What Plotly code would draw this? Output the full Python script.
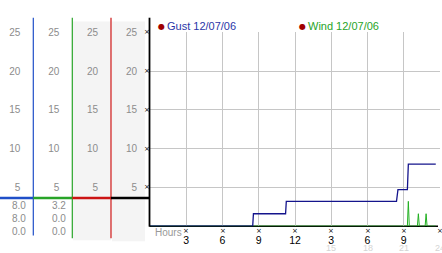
import plotly.graph_objects as go

W, H = 442, 253

def px(x):
    return x / W

def py(y):
    return (H - y) / H

# ---- data (hours since start, knots) ----
gust_hours = [0, 8.50, 8.56, 11.22, 11.28, 20.40, 20.52, 21.30, 21.38, 23.65]
gust_vals = [0, 0, 1.6, 1.6, 3.2, 3.2, 4.7, 4.7, 8.0, 8.0]

wind_hours = [0, 21.30, 21.38, 21.46, 22.13, 22.21, 22.29, 22.77, 22.85, 22.93, 23.65]
wind_vals = [0, 0, 3.2, 0, 0, 1.6, 0, 0, 1.6, 0, 0]

y_ticks = [5, 10, 15, 20, 25]
y_ticklabels = ["5", "10", "15", "20", "25"]
x_ticks = [3, 6, 9, 12, 15, 18, 21, 24]
x_ticklabels = ["3", "6", "9", "12", "3", "6", "9", "12"]
x_ticklabels_24 = ["", "", "", "", "15", "18", "21", "24"]

gust_name = "Gust 12/07/06"
wind_name = "Wind 12/07/06"

GUST_LINE = "#14148c"
GUST_TXT = "#2a36a8"
BLUE = "#1f4fc8"
GREEN = "#28a428"
WIND_LINE = "#22b022"
RED = "#cc1414"
GRAY_TXT = "#8c8c8c"
GRID = "#c6c6c6"

fig = go.Figure()
fig.add_trace(go.Scatter(x=wind_hours, y=wind_vals, mode="lines",
                         line=dict(color=WIND_LINE, width=1), hoverinfo="skip",
                         showlegend=False))
fig.add_trace(go.Scatter(x=gust_hours, y=gust_vals, mode="lines",
                         line=dict(color=GUST_LINE, width=1.3), hoverinfo="skip",
                         showlegend=False))
for ax in ["y2", "y3", "y4"]:
    fig.add_trace(go.Scatter(x=[None], y=[None], yaxis=ax, showlegend=False,
                             hoverinfo="skip"))

label_font = dict(family="Liberation Sans, Arial", size=10, color=GRAY_TXT)

def side_axis(pos):
    return dict(overlaying="y", anchor="free", position=pos, range=[0, 25],
                tickvals=y_ticks, ticktext=y_ticklabels, showgrid=False,
                zeroline=False, showline=False, ticks="outside", ticklen=11,
                tickcolor="rgba(0,0,0,0)", tickfont=label_font, fixedrange=True)

fig.update_layout(
    width=W, height=H, margin=dict(l=0, r=0, t=0, b=0),
    paper_bgcolor="white", plot_bgcolor="white", showlegend=False,
    xaxis=dict(domain=[px(150), px(440)], range=[0, 24], tickvals=x_ticks,
               ticktext=x_ticklabels, showgrid=True, gridcolor=GRID, gridwidth=1,
               zeroline=False, showline=False, ticks="outside", ticklen=4,
               tickcolor="rgba(0,0,0,0)",
               tickfont=dict(family="Liberation Sans, Arial", size=10.5, color="black"),
               fixedrange=True),
    yaxis=dict(domain=[py(225.5), py(27)], range=[0, 25], tickvals=y_ticks,
               ticktext=y_ticklabels, showgrid=True, gridcolor=GRID, gridwidth=1,
               zeroline=False, showline=False, ticks="outside", ticklen=10,
               tickcolor="rgba(0,0,0,0)", tickfont=label_font, fixedrange=True),
    yaxis2=side_axis(px(33.3)),
    yaxis3=side_axis(px(72.3)),
    yaxis4=side_axis(px(111)),
)

shapes = []
# gray column backgrounds
for x0, x1, y0, y1 in [(73, 111, 16, 240), (112, 145, 16, 241)]:
    shapes.append(dict(type="rect", xref="paper", yref="paper", x0=px(x0), x1=px(x1),
                       y0=py(y1), y1=py(y0), fillcolor="#f4f4f4", line=dict(width=0),
                       layer="below"))
# vertical separators
for x, y1, c, w in [(33.3, 235, BLUE, 1.2), (72.3, 238, GREEN, 1.2), (111, 238, RED, 1.2),
                    (149.5, 226, "black", 1.8)]:
    shapes.append(dict(type="line", xref="paper", yref="paper", x0=px(x), x1=px(x),
                       y0=py(12), y1=py(y1), line=dict(color=c, width=w)))
# horizontal coloured bar
for x0, x1, c in [(0, 33.3, BLUE), (33.3, 72.3, GREEN), (72.3, 111, RED), (111, 149.5, "black")]:
    shapes.append(dict(type="line", xref="paper", yref="paper", x0=px(x0), x1=px(x1),
                       y0=py(196.7), y1=py(196.7), line=dict(color=c, width=2.5)))
# x baseline
shapes.append(dict(type="line", xref="paper", yref="paper", x0=px(149.5), x1=px(438),
                   y0=py(225.5), y1=py(225.5), line=dict(color="black", width=1.5),
                   layer="between"))
fig.update_layout(shapes=shapes)

ann = []
mark_font = dict(family="DejaVu Sans", size=7, color="black")
for v in y_ticks:
    ann.append(dict(x=px(146.5), xref="paper", y=v, yref="y", text="×", showarrow=False,
                    font=mark_font, xanchor="center", yanchor="middle"))
for v, lab in zip(x_ticks, x_ticklabels_24):
    ann.append(dict(x=v, xref="x", y=py(230.5), yref="paper", text="×", showarrow=False,
                    font=mark_font, xanchor="center", yanchor="middle"))
    if lab:
        ann.append(dict(x=v, xref="x", y=py(248), yref="paper", text=lab, showarrow=False,
                        font=dict(family="Liberation Sans, Arial", size=9, color="#d4d4d4"),
                        xanchor="center", yanchor="middle"))
ann.append(dict(x=px(153), xref="paper", y=py(232), yref="paper", text="Hours",
                showarrow=False, font=dict(family="Liberation Sans, Arial", size=10, color="#999999"),
                xanchor="left", yanchor="middle"))
# legend
for xd, name, col in [(161, gust_name, GUST_TXT), (302, wind_name, GREEN)]:
    ann.append(dict(x=px(xd), xref="paper", y=py(20.5), yref="paper", text="●",
                    showarrow=False, font=dict(family="DejaVu Sans", size=8, color="#a00000"),
                    xanchor="center", yanchor="middle"))
    ann.append(dict(x=px(xd + 3.5), xref="paper", y=py(20.5), yref="paper", text=name,
                    showarrow=False, font=dict(family="Liberation Sans, Arial", size=11, color=col),
                    xanchor="left", yanchor="middle"))
# stats (max, current, min)
gust_stats = [max(gust_vals), gust_vals[-1], min(gust_vals)]
wind_stats = [max(wind_vals), wind_vals[-1], min(wind_vals)]
for xr, stats in [(27.5, gust_stats), (67.5, wind_stats)]:
    for yy, v in zip([204, 218, 231], stats):
        ann.append(dict(x=px(xr), xref="paper", y=py(yy), yref="paper", text=f"{v:.1f}",
                        showarrow=False, font=label_font, xanchor="right", yanchor="middle"))
fig.update_layout(annotations=ann)

fig.write_html("out.html")
